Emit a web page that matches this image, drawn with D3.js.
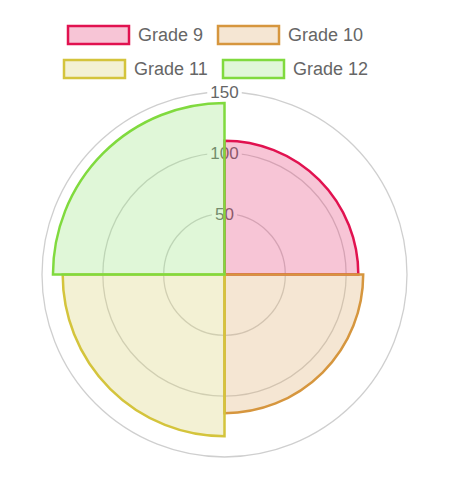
<!DOCTYPE html>
<html><head><meta charset="utf-8">
<script src="https://cdn.jsdelivr.net/npm/d3@7"></script>
<style>body{margin:0;background:#fff}svg{display:block}</style>
</head><body>
<script>
const categories = ["Grade 9", "Grade 10", "Grade 11", "Grade 12"];
const values = [110, 114, 133, 141];
const ticks = [50, 100, 150];
const borderColors = ["rgb(225,18,80)", "rgb(214,150,62)", "rgb(212,196,60)", "rgb(128,218,62)"];
const fillColors = ["rgba(228,62,118,0.3)", "rgba(222,172,108,0.3)", "rgba(215,208,112,0.3)", "rgba(152,228,125,0.3)"];

const W = 470, H = 478, cx = 224.5, cy = 274.5, R = 182.5;
const svg = d3.select("body").append("svg").attr("width", W).attr("height", H);
const font = "'Liberation Sans', Arial, Helvetica, sans-serif";

const r = d3.scaleLinear().domain([0, 150]).range([0, R]);
const g = svg.append("g").attr("transform", `translate(${cx},${cy})`);

// grid
g.selectAll("circle.grid").data(ticks).enter().append("circle")
  .attr("r", d => r(d)).attr("fill", "none").attr("stroke", "#cfcfcf").attr("stroke-width", 1.3);

// tick labels (beneath the slices)
const tl = g.selectAll("g.tick").data(ticks).enter().append("g")
  .attr("transform", d => `translate(0,${-r(d)})`);
tl.append("rect").attr("x", d => -String(d).length * 4.75 - 3).attr("y", -9)
  .attr("width", d => String(d).length * 9.5 + 6).attr("height", 18).attr("fill", "#fff");
tl.append("text").text(d => d).attr("text-anchor", "middle").attr("dy", "0.36em")
  .attr("font-family", font).attr("font-size", 17).attr("fill", "#666");

// slices
const step = 2 * Math.PI / categories.length;
const arc = d3.arc().innerRadius(0);
g.selectAll("path.slice").data(values).enter().append("path")
  .attr("d", (d, i) => arc({outerRadius: r(d), startAngle: i * step, endAngle: (i + 1) * step}))
  .attr("fill", (d, i) => fillColors[i])
  .attr("stroke", (d, i) => borderColors[i])
  .attr("stroke-width", 2.5).attr("stroke-linejoin", "miter");

// legend
const legendPos = [[67, 25], [217, 25], [63, 59], [222, 59]];
const lg = svg.selectAll("g.leg").data(categories).enter().append("g")
  .attr("transform", (d, i) => `translate(${legendPos[i][0]},${legendPos[i][1]})`);
lg.append("rect").attr("x", 1).attr("y", 1).attr("width", 61).attr("height", 18)
  .attr("fill", (d, i) => fillColors[i]).attr("stroke", (d, i) => borderColors[i]).attr("stroke-width", 2.5);
lg.append("text").text(d => d).attr("x", 71).attr("y", 10).attr("dy", "0.36em")
  .attr("font-family", font).attr("font-size", 18).attr("fill", "#666");
</script>
</body></html>
